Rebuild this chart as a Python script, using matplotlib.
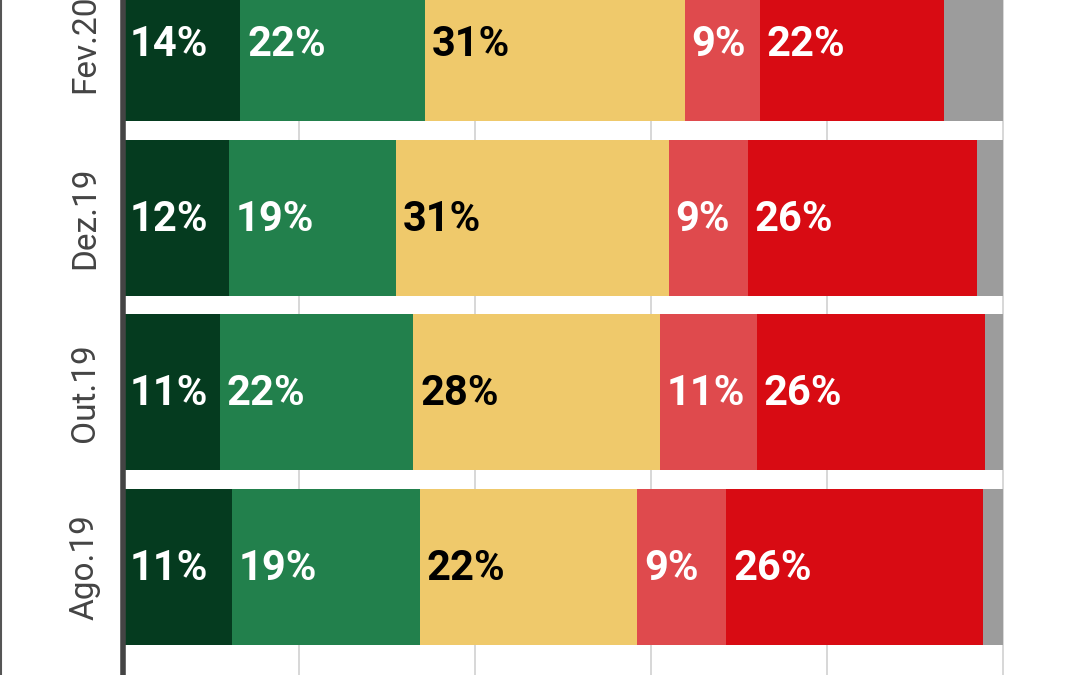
import numpy as np
import matplotlib
matplotlib.use("Agg")
from matplotlib import pyplot as plt
from matplotlib.lines import Line2D

# survey waves, bottom to top
periods = ["Ago.19", "Out.19", "Dez.19", "Fev.20"]

# raw shares (%) per answer, same order as periods
otimo = [11, 11, 12, 14]
bom = [19, 22, 19, 22]
regular = [22, 28, 31, 31]
ruim = [9, 11, 9, 9]
pessimo = [26, 26, 26, 22]
nao_sabe = [2, 2, 3, 7]

series = [otimo, bom, regular, ruim, pessimo, nao_sabe]
colors = ["#053b1f", "#22804c", "#efc96b", "#df4a4d", "#d80b13", "#9c9c9c"]
text_colors = ["white", "white", "black", "white", "white", None]

raw = np.array(series, dtype=float)
share = raw / raw.sum(axis=0) * 100  # bars are normalised to 100%

fig = plt.figure(figsize=(10.8, 6.75), dpi=100)
ax = fig.add_axes([123 / 1080, 0, 957 / 1080, 1])

y = np.arange(len(periods))
left = np.zeros(len(periods))
for i in range(len(series)):
    ax.barh(y, share[i], left=left, height=0.894, color=colors[i], zorder=2)
    if text_colors[i] is not None:
        for j in range(len(periods)):
            ax.annotate("%d%%" % raw[i][j], (left[j], y[j]), xytext=(5, -1),
                        textcoords="offset points", ha="left", va="center",
                        fontsize=30, fontweight="bold", family="Roboto",
                        color=text_colors[i], zorder=3)
    left += share[i]

ax.set_xlim(0, 100 * 957 / 880)
ax.set_ylim(-0.619, 3.249)
ax.set_xticks([0, 20, 40, 60, 80, 100])
ax.set_xticklabels([])
ax.tick_params(axis="x", length=0)
ax.grid(axis="x", color="#d4d4d4", linewidth=1.3, zorder=0)
ax.set_axisbelow(True)

ax.set_yticks(y)
ax.set_yticklabels(periods, rotation=90, va="center", fontsize=24,
                   family="Roboto", color="#444444")
ax.tick_params(axis="y", length=0, pad=16)

for s in ["top", "right", "bottom"]:
    ax.spines[s].set_visible(False)
ax.spines["left"].set_color("#444444")
ax.spines["left"].set_linewidth(4)
ax.spines["left"].set_zorder(4)

# dark edge on the far left of the screenshot
fig.add_artist(Line2D([0.001, 0.001], [0, 1], color="#555555", linewidth=1.5))

plt.savefig("out.png", dpi=100)
